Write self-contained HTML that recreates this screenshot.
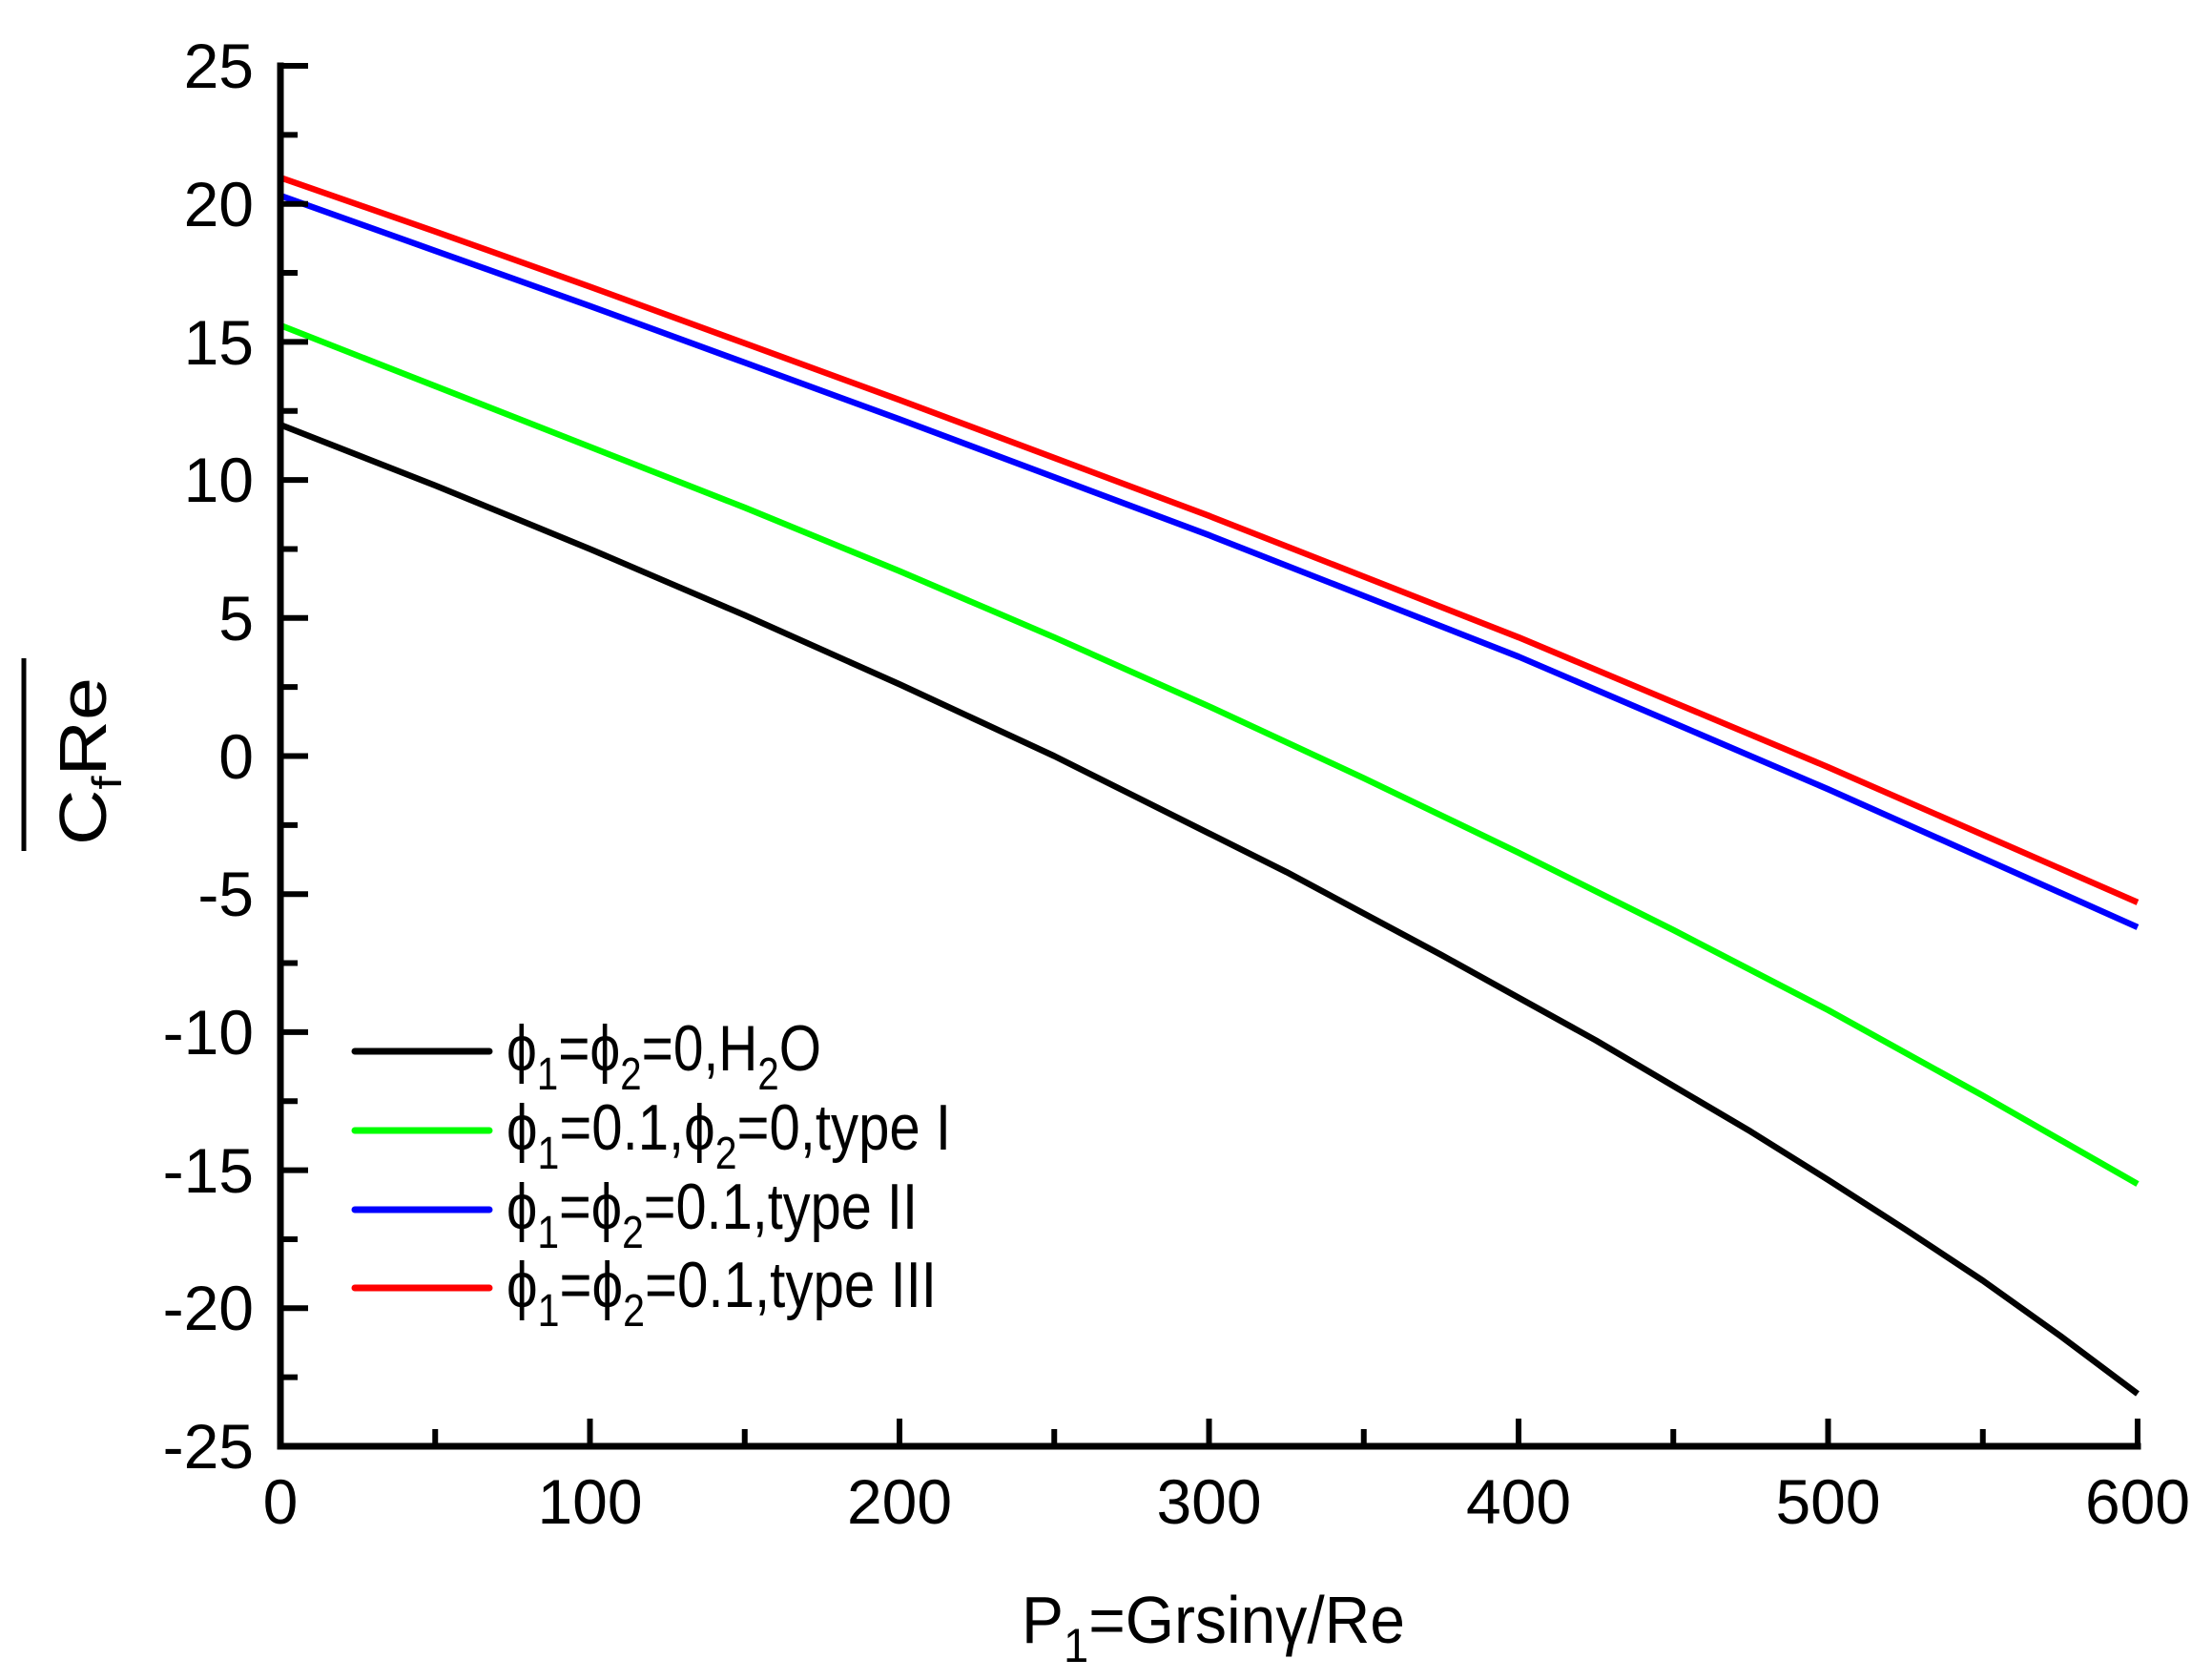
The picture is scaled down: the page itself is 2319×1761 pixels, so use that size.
<!DOCTYPE html>
<html><head><meta charset="utf-8"><style>html,body{margin:0;padding:0;background:#fff}svg{display:block}</style></head>
<body>
<svg width="2319" height="1761" viewBox="0 0 2319 1761" xmlns="http://www.w3.org/2000/svg" font-family="'Liberation Sans', Arial, sans-serif">
<rect width="2319" height="1761" fill="#fff"/>
<g transform="matrix(3.245 0 0 -28.94 294 792.5)" fill="none" stroke-linejoin="round">
<polyline vector-effect="non-scaling-stroke" stroke="#000" stroke-width="6.5" points="0,12 25,10.9 50,9.8 75,8.65 100,7.5 125,6.3 150,5.1 175,3.85 200,2.6 225,1.3 250,0 275,-1.4 300,-2.8 325,-4.2 350,-5.7 375,-7.2 400,-8.75 425,-10.3 450,-11.95 475,-13.6 500,-15.35 525,-17.15 550,-19.0 575,-21.0 600,-23.1"/>
<polyline vector-effect="non-scaling-stroke" stroke="#00ff00" stroke-width="6.5" points="0,15.6 50,13.4 100,11.2 150,9.0 200,6.7 250,4.3 300,1.8 350,-0.8 400,-3.5 450,-6.3 500,-9.2 550,-12.3 600,-15.5"/>
<polyline vector-effect="non-scaling-stroke" stroke="#0000ff" stroke-width="6.5" points="0,20.3 50,18.3 100,16.3 150,14.25 200,12.2 250,10.1 300,8.0 350,5.8 400,3.6 450,1.2 500,-1.2 550,-3.7 600,-6.2"/>
<polyline vector-effect="non-scaling-stroke" stroke="#ff0000" stroke-width="6.5" points="0,20.95 50,19.0 100,17.0 150,14.95 200,12.9 250,10.8 300,8.7 350,6.5 400,4.3 450,1.95 500,-0.4 550,-2.85 600,-5.3"/>
</g>
<g stroke="#000" stroke-width="7" fill="none" stroke-linecap="square">
<line x1="294" y1="69" x2="294" y2="1516"/>
<line x1="294" y1="1516" x2="2241" y2="1516"/>
</g>
<g stroke="#000" stroke-width="6">
<line x1="294" x2="323" y1="69" y2="69"/><line x1="294" x2="323" y1="213.7" y2="213.7"/>
<line x1="294" x2="323" y1="358.4" y2="358.4"/><line x1="294" x2="323" y1="503.1" y2="503.1"/>
<line x1="294" x2="323" y1="647.8" y2="647.8"/><line x1="294" x2="323" y1="792.5" y2="792.5"/>
<line x1="294" x2="323" y1="937.2" y2="937.2"/><line x1="294" x2="323" y1="1081.9" y2="1081.9"/>
<line x1="294" x2="323" y1="1226.6" y2="1226.6"/><line x1="294" x2="323" y1="1371.3" y2="1371.3"/>
<line x1="294" x2="312" y1="141.35" y2="141.35"/><line x1="294" x2="312" y1="286.05" y2="286.05"/>
<line x1="294" x2="312" y1="430.75" y2="430.75"/><line x1="294" x2="312" y1="575.45" y2="575.45"/>
<line x1="294" x2="312" y1="720.15" y2="720.15"/><line x1="294" x2="312" y1="864.85" y2="864.85"/>
<line x1="294" x2="312" y1="1009.55" y2="1009.55"/><line x1="294" x2="312" y1="1154.25" y2="1154.25"/>
<line x1="294" x2="312" y1="1298.95" y2="1298.95"/><line x1="294" x2="312" y1="1443.65" y2="1443.65"/>
<line y1="1516" y2="1487" x1="618.5" x2="618.5"/><line y1="1516" y2="1487" x1="943" x2="943"/>
<line y1="1516" y2="1487" x1="1267.5" x2="1267.5"/><line y1="1516" y2="1487" x1="1592" x2="1592"/>
<line y1="1516" y2="1487" x1="1916.5" x2="1916.5"/><line y1="1516" y2="1487" x1="2241" x2="2241"/>
<line y1="1516" y2="1498" x1="456.25" x2="456.25"/><line y1="1516" y2="1498" x1="780.75" x2="780.75"/>
<line y1="1516" y2="1498" x1="1105.25" x2="1105.25"/><line y1="1516" y2="1498" x1="1429.75" x2="1429.75"/>
<line y1="1516" y2="1498" x1="1754.25" x2="1754.25"/><line y1="1516" y2="1498" x1="2078.75" x2="2078.75"/>
</g>
<g font-size="66" text-anchor="end" fill="#000">
<text x="266" y="92">25</text><text x="266" y="237">20</text><text x="266" y="382">15</text>
<text x="266" y="526">10</text><text x="266" y="671">5</text><text x="266" y="816">0</text>
<text x="266" y="960">-5</text><text x="266" y="1105">-10</text><text x="266" y="1250">-15</text>
<text x="266" y="1394">-20</text><text x="266" y="1539">-25</text>
</g>
<g font-size="66" text-anchor="middle" fill="#000">
<text x="294" y="1597">0</text><text x="618.5" y="1597">100</text><text x="943" y="1597">200</text>
<text x="1267.5" y="1597">300</text><text x="1592" y="1597">400</text><text x="1916.5" y="1597">500</text>
<text x="2241" y="1597">600</text>
</g>
<text x="1071" y="1722" font-size="70" textLength="402" lengthAdjust="spacingAndGlyphs">P<tspan font-size="50" dy="20">1</tspan><tspan dy="-20">=Grsinγ/Re</tspan></text>
<g transform="translate(111,886) rotate(-90)">
<text x="0" y="0" font-size="70" textLength="176" lengthAdjust="spacingAndGlyphs">C<tspan font-size="44" dy="16">f</tspan><tspan dy="-16">Re</tspan></text>
</g>
<line x1="25" y1="690" x2="25" y2="892" stroke="#000" stroke-width="5"/>
<g stroke-width="7" stroke-linecap="round">
<line x1="372" x2="513" y1="1102" y2="1102" stroke="#000"/>
<line x1="372" x2="513" y1="1185" y2="1185" stroke="#00ff00"/>
<line x1="372" x2="513" y1="1268" y2="1268" stroke="#0000ff"/>
<line x1="372" x2="513" y1="1350" y2="1350" stroke="#ff0000"/>
</g>
<g font-size="68" fill="#000">
<text x="531" y="1122" textLength="330" lengthAdjust="spacingAndGlyphs">ϕ<tspan font-size="48" dy="20">1</tspan><tspan dy="-20">=ϕ</tspan><tspan font-size="48" dy="20">2</tspan><tspan dy="-20">=0,H</tspan><tspan font-size="48" dy="20">2</tspan><tspan dy="-20">O</tspan></text>
<text x="531" y="1205" textLength="466" lengthAdjust="spacingAndGlyphs">ϕ<tspan font-size="48" dy="20">1</tspan><tspan dy="-20">=0.1,ϕ</tspan><tspan font-size="48" dy="20">2</tspan><tspan dy="-20">=0,type I</tspan></text>
<text x="531" y="1288" textLength="431" lengthAdjust="spacingAndGlyphs">ϕ<tspan font-size="48" dy="20">1</tspan><tspan dy="-20">=ϕ</tspan><tspan font-size="48" dy="20">2</tspan><tspan dy="-20">=0.1,type II</tspan></text>
<text x="531" y="1370" textLength="451" lengthAdjust="spacingAndGlyphs">ϕ<tspan font-size="48" dy="20">1</tspan><tspan dy="-20">=ϕ</tspan><tspan font-size="48" dy="20">2</tspan><tspan dy="-20">=0.1,type III</tspan></text>
</g>
</svg>
</body></html>
